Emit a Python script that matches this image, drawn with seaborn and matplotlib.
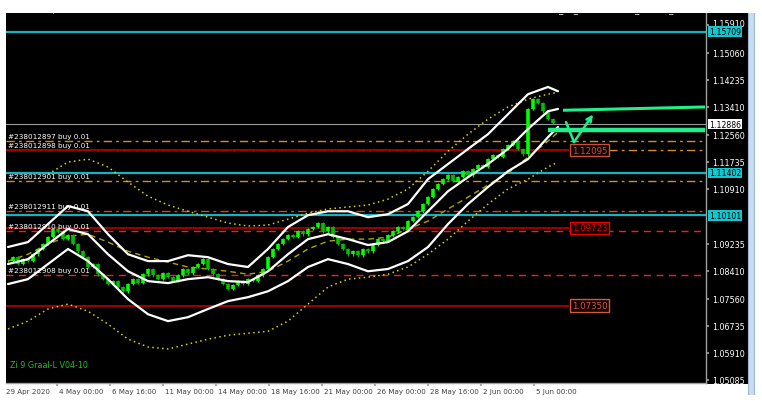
import numpy as np
import pandas as pd
import matplotlib
matplotlib.use("Agg")
import matplotlib.pyplot as plt
import matplotlib.transforms as mtransforms
from matplotlib.patches import Rectangle
import seaborn as sns

sns.set_theme(style="dark")
plt.rcParams['font.family'] = ['DejaVu Sans']

# ---------------- data (prices) ----------------
closes = [1.0871, 1.0883, 1.0862, 1.0877, 1.0871, 1.0892, 1.0908, 1.0923, 1.0944, 1.0969,
          1.0962, 1.0938, 1.0950, 1.0923, 1.0901, 1.0883, 1.0853, 1.0862, 1.0831, 1.0816,
          1.0801, 1.0810, 1.0792, 1.0779, 1.0801, 1.0816, 1.0804, 1.0831, 1.0847, 1.0828,
          1.0816, 1.0834, 1.0822, 1.0810, 1.0828, 1.0847, 1.0834, 1.0853, 1.0862, 1.0877,
          1.0847, 1.0831, 1.0816, 1.0801, 1.0786, 1.0798, 1.0810, 1.0801, 1.0816, 1.0810,
          1.0828, 1.0847, 1.0883, 1.0908, 1.0923, 1.0938, 1.0950, 1.0944, 1.0962, 1.0953,
          1.0969, 1.0975, 1.0987, 1.0962, 1.0975, 1.0944, 1.0923, 1.0908, 1.0892, 1.0901,
          1.0889, 1.0908, 1.0901, 1.0920, 1.0938, 1.0932, 1.0950, 1.0962, 1.0975, 1.0969,
          1.0993, 1.1005, 1.1023, 1.1045, 1.1066, 1.1091, 1.1106, 1.1121, 1.1133, 1.1115,
          1.1127, 1.1145, 1.1133, 1.1152, 1.1164, 1.1158, 1.1182, 1.1194, 1.1188, 1.1213,
          1.1225, 1.1237, 1.1213, 1.1197, 1.1335, 1.1365, 1.1353, 1.1328, 1.1304, 1.1292]

band_bars = [0, 4, 8, 12, 16, 20, 24, 28, 32, 36, 40, 44, 48, 52, 56, 60, 64, 68, 72,
             76, 80, 84, 88, 92, 96, 100, 104, 108, 110]
upper_band = [1.0914, 1.0929, 1.0984, 1.1039, 1.1023, 1.0953, 1.0892, 1.0871, 1.0871, 1.0889,
              1.0883, 1.0862, 1.0853, 1.0908, 1.0975, 1.1011, 1.1023, 1.1023, 1.1005, 1.1014,
              1.1045, 1.1121, 1.1167, 1.1213, 1.1258, 1.1319, 1.1380, 1.1402, 1.1389]
middle_band = [1.0862, 1.0877, 1.0923, 1.0969, 1.0953, 1.0892, 1.0840, 1.0810, 1.0804, 1.0816,
               1.0822, 1.0810, 1.0807, 1.0840, 1.0892, 1.0938, 1.0953, 1.0938, 1.0920, 1.0929,
               1.0962, 1.1023, 1.1084, 1.1127, 1.1167, 1.1213, 1.1274, 1.1328, 1.1335]
lower_band = [1.0801, 1.0816, 1.0862, 1.0908, 1.0871, 1.0816, 1.0755, 1.0709, 1.0688, 1.0700,
              1.0725, 1.0749, 1.0761, 1.0779, 1.0810, 1.0853, 1.0877, 1.0862, 1.0840, 1.0847,
              1.0871, 1.0914, 1.0984, 1.1045, 1.1097, 1.1145, 1.1182, 1.1249, 1.1280]
env_upper = [np.nan, np.nan, 1.1136, 1.1173, 1.1182, 1.1158, 1.1112, 1.1069, 1.1042, 1.1023,
             1.1005, 1.0987, 1.0978, 1.0981, 1.0999, 1.1017, 1.1030, 1.1036, 1.1042, 1.1060,
             1.1091, 1.1145, 1.1206, 1.1258, 1.1304, 1.1341, 1.1365, 1.1380, 1.1386]
env_lower = [1.0664, 1.0688, 1.0725, 1.0740, 1.0718, 1.0679, 1.0633, 1.0609, 1.0603, 1.0618,
             1.0633, 1.0645, 1.0651, 1.0657, 1.0688, 1.0740, 1.0792, 1.0816, 1.0822, 1.0831,
             1.0853, 1.0892, 1.0938, 1.0993, 1.1045, 1.1091, 1.1121, 1.1158, 1.1173]
ma_line = [1.0871, 1.0892, 1.0923, 1.0947, 1.0953, 1.0929, 1.0901, 1.0883, 1.0868, 1.0853,
           1.0847, 1.0840, 1.0831, 1.0840, 1.0871, 1.0908, 1.0932, 1.0938, 1.0938, 1.0944,
           1.0969, 1.0993, 1.1030, 1.1066, 1.1103, 1.1139, 1.1188, 1.1237, 1.1264]

cyan_levels = [1.15709, 1.11402, 1.10101]
bid_level = 1.12886
order_ids = ["#238012897", "#238012898", "#238012901", "#238012911", "#238012910", "#238012908"]
order_levels = [1.12373, 1.12095, 1.11153, 1.10238, 1.09628, 1.08287]
order_colors = ["#d98a20", "#d98a20", "#d98a20", "#e84010", "#ff1a1a", "#ff1a1a"]
trend_levels = [1.12095, 1.09723, 1.07350]
trend_labels = ["1.12095", "1.09723", "1.07350"]
trend_box_colors = ["#c8503c", "#e80000", "#d05a46"]

price_ticks = [1.15910, 1.15060, 1.14235, 1.13410, 1.12560, 1.11735, 1.10910,
               1.09235, 1.08410, 1.07560, 1.06735, 1.05910, 1.05085]
date_tick_bars = [9.8, 20.4, 31.0, 41.6, 52.2, 62.8, 73.4, 84.0, 94.6, 105.2]
date_labels = ["4 May 00:00", "6 May 16:00", "11 May 00:00", "14 May 00:00", "18 May 16:00",
               "21 May 00:00", "26 May 00:00", "28 May 16:00", "2 Jun 00:00", "5 Jun 00:00"]
first_date_label = "29 Apr 2020"

# hand-drawn green objects (bar, price)
green_upper_x = [111.0, 139.4]
green_upper_y = [1.1331, 1.1341]
green_lower_x = [108.0, 139.4]
green_lower_y = [1.1270, 1.1270]
check_x = [111.6, 113.2, 117.0]
check_y = [1.1295, 1.1234, 1.1318]

# ---------------- figure layout ----------------
W, H = 762, 402
fig = plt.figure(figsize=(W / 100, H / 100), dpi=100)
fig.patch.set_facecolor("white")

def fx(px):
    return px / W

def fy(py):
    return 1 - py / H

fig.add_artist(Rectangle((fx(6), fy(385)), fx(748) - fx(6), fy(14) - fy(385),
                         transform=fig.transFigure, facecolor="black", edgecolor="none", zorder=-5))
fig.add_artist(Rectangle((fx(748), 0), fx(6), 1, transform=fig.transFigure,
                         facecolor="#c9dcf0", edgecolor="#9fb8d2", lw=0.8, zorder=-5))

ax = fig.add_axes([fx(6), fy(384), 700 / W, 370 / H])
ax.set_facecolor("black")
ax.set_xlim(-0.4, 139.6)
ax.set_ylim(1.04993, 1.16276)
ax.grid(False)

# horizontal levels
for lv in cyan_levels:
    ax.axhline(lv, color="#12b4c4", lw=1.6, zorder=2)
ax.axhline(bid_level, color="#9a9a9a", lw=0.8, zorder=2)
for lv, c in zip(order_levels, order_colors):
    if c == "#ff1a1a":
        ax.axhline(lv, color=c, lw=1.0, dashes=(5, 4), zorder=2)
    else:
        ax.axhline(lv, color=c, lw=1.0, dashes=(6, 3, 2, 3), zorder=2)
for lv in trend_levels:
    ax.hlines(lv, -0.4, 112.2, color="#a00000", lw=1.4, zorder=2)

# envelopes and bands
band_df = pd.DataFrame({"bar": band_bars, "upper": upper_band, "middle": middle_band,
                        "lower": lower_band, "env_up": env_upper, "env_lo": env_lower,
                        "ma": ma_line})
for col in ["env_up", "env_lo"]:
    sns.lineplot(data=band_df, x="bar", y=col, ax=ax, color="#d8d000", lw=1.1, zorder=3)
    ax.lines[-1].set_dashes((1, 2.2))
sns.lineplot(data=band_df, x="bar", y="ma", ax=ax, color="#b0a400", lw=1.0, zorder=3)
ax.lines[-1].set_dashes((4, 3))

# candles
bars = np.arange(len(closes))
opens = [closes[0]] + closes[:-1]
cols = ["#00ff00" if c >= o else "#00c000" for o, c in zip(opens, closes)]
ax.vlines(bars, opens, closes, colors=cols, lw=2.6, zorder=4)
ax.vlines(bars, np.minimum(opens, closes) - 0.0004, np.maximum(opens, closes) + 0.0004,
          colors=cols, lw=0.8, zorder=4)

for col in ["upper", "middle", "lower"]:
    sns.lineplot(data=band_df, x="bar", y=col, ax=ax, color="white", lw=1.6, zorder=5)

# order labels
for oid, lv in zip(order_ids, order_levels):
    ax.annotate(f"{oid} buy 0.01", xy=(0.0, lv), xytext=(0, 1.2), textcoords="offset points",
                color="white", fontsize=5.2, va="bottom", ha="left", zorder=6)

# trend labels
for lv, lab, c in zip(trend_levels, trend_labels, trend_box_colors):
    ax.text(112.8, lv, lab, color=c, fontsize=6.2, va="center", ha="left", zorder=6,
            bbox=dict(boxstyle="square,pad=0.2", fc="#140000", ec=c, lw=1.0))

# green drawings
ax.plot(green_upper_x, green_upper_y, color="#22ee8c", lw=2.2, zorder=7, solid_capstyle="butt")
ax.plot(green_lower_x, green_lower_y, color="#22ee8c", lw=3.2, zorder=7, solid_capstyle="butt")
ax.plot(check_x[:2], check_y[:2], color="#22ee8c", lw=1.8, zorder=7)
ax.annotate("", xy=(check_x[2], check_y[2]), xytext=(check_x[1], check_y[1]),
            arrowprops=dict(arrowstyle="->", color="#22ee8c", lw=1.8, mutation_scale=9,
                            shrinkA=0, shrinkB=0), zorder=7)

ax.text(0.5, 1.0555, "Zi 9 Graal-L V04-10", color="#22c022", fontsize=5.8, va="center",
        ha="left", zorder=6)

# axes styling
for s in ["top", "left"]:
    ax.spines[s].set_visible(False)
for s in ["right", "bottom"]:
    ax.spines[s].set_visible(True)
    ax.spines[s].set_color("#a0a0a0")
    ax.spines[s].set_linewidth(1.0)
ax.set_xlabel("")
ax.set_ylabel("")
ax.yaxis.tick_right()
ax.set_yticks(price_ticks)
ax.set_yticklabels([f"{t:.5f}" for t in price_ticks])
ax.tick_params(axis="y", which="both", right=True, left=False, direction="out", length=2.5,
               color="#a0a0a0", labelcolor="white", labelsize=5.8, pad=2)
# the top tick label sits partly above the cyan price box
top_shift = mtransforms.ScaledTranslation(0, 3 / 100, fig.dpi_scale_trans)
for lab in ax.get_yticklabels():
    if lab.get_text() == f"{price_ticks[0]:.5f}":
        lab.set_transform(lab.get_transform() + top_shift)

ax.set_xticks(date_tick_bars)
ax.set_xticklabels(date_labels, ha="left")
ax.tick_params(axis="x", bottom=True, direction="out", length=2.5, color="#a0a0a0",
               labelcolor="#404040", labelsize=5.1, pad=1)
offset = mtransforms.ScaledTranslation(2 / 100, 0, fig.dpi_scale_trans)
for lab in ax.get_xticklabels():
    lab.set_transform(lab.get_transform() + offset)
ax.annotate(first_date_label, xy=(0, 0), xycoords="axes fraction", xytext=(0, -3.5),
            textcoords="offset points", color="#404040", fontsize=5.1, va="top", ha="left",
            annotation_clip=False)

# right axis price boxes
trans = mtransforms.blended_transform_factory(ax.transAxes, ax.transData)
for lv in cyan_levels:
    ax.text(1.0045, lv, f"{lv:.5f}", transform=trans, color="black", fontsize=5.6,
            va="center", ha="left", clip_on=False, zorder=8,
            bbox=dict(boxstyle="square,pad=0.1", fc="#10c8d0", ec="none"))
ax.text(1.0045, bid_level, f"{bid_level:.5f}", transform=trans, color="black", fontsize=5.6,
        va="center", ha="left", clip_on=False, zorder=8,
        bbox=dict(boxstyle="square,pad=0.1", fc="white", ec="none"))

# header text (mostly hidden under the white strip, as in the screenshot)
fig.text(fx(17), fy(10), "EURUSD,H4  1.12819 1.12910 1.12780 1.12886", color="white",
         fontsize=6, va="center", ha="left")
fig.text(fx(700), fy(10), "Zi_99_EnterMercent_V04-10_1000h", color="white",
         fontsize=6, va="center", ha="right")
fig.add_artist(Rectangle((0, fy(13.5)), 1, fy(0) - fy(13.5), transform=fig.transFigure,
                         facecolor="white", edgecolor="none", zorder=20))
fig.add_artist(Rectangle((0, 0), 1, fy(395.5), transform=fig.transFigure,
                         facecolor="white", edgecolor="none", zorder=20))

fig.savefig("out.png", dpi=100, facecolor=fig.get_facecolor())
